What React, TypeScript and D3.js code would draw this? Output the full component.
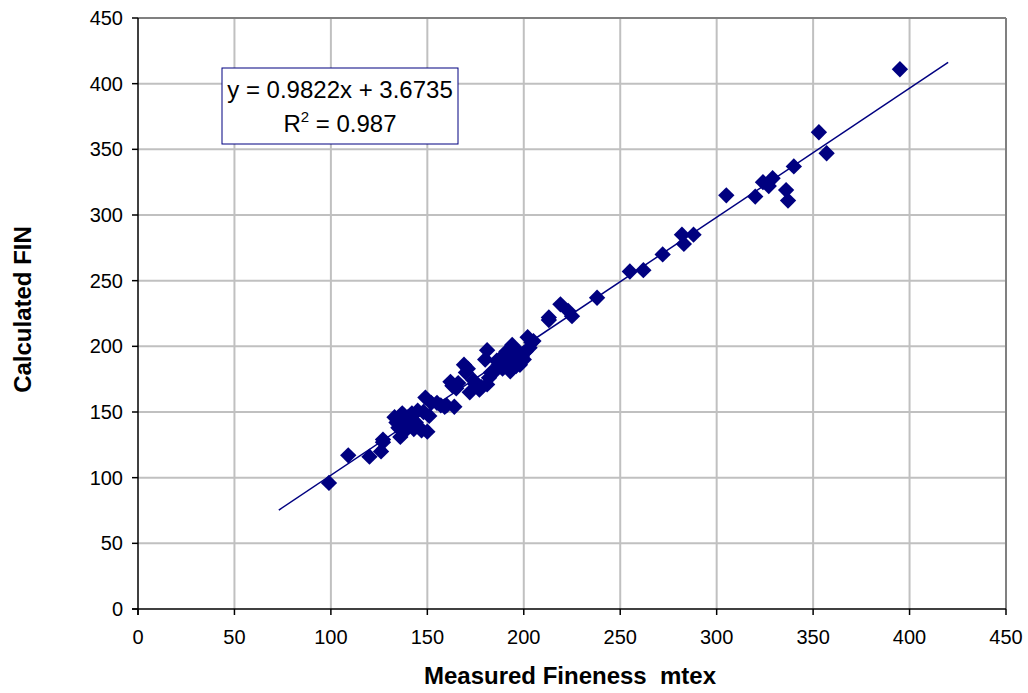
import React from 'react';
import * as d3 from 'd3';

const width = 1028;
const height = 693;
const margin = { top: 18, right: 22, bottom: 84, left: 138 };
const navy = '#000080';

const measured = [
  99, 109, 120, 126, 127, 127, 133, 134, 135, 136, 137, 137, 138, 139, 140, 141, 142, 143, 144, 145,
  146, 147, 148, 149, 150, 151, 152, 155, 157, 159, 160, 162, 163, 164, 165, 166, 169, 170, 171, 172,
  174, 175, 177, 178, 180, 181, 181, 182, 183, 185, 186, 187, 188, 189, 190, 190, 191, 192, 192, 193,
  193, 194, 194, 195, 196, 196, 197, 198, 198, 199, 200, 201, 202, 203, 204, 205, 213, 213, 219, 223,
  225, 238, 255, 262, 272, 282, 283, 288, 305, 320, 324, 327, 329, 336, 337, 340, 353, 357, 395,
];
const calculated = [
  96, 117, 116, 120, 129, 127, 146, 142, 138, 131, 149, 144, 135, 140, 146, 140, 149, 137, 142, 151,
  138, 136, 150, 161, 135, 147, 157, 157, 155, 154, 155, 173, 170, 154, 168, 172, 186, 180, 183, 165,
  174, 171, 167, 169, 190, 197, 171, 176, 180, 181, 189, 186, 191, 183, 193, 187, 196, 184, 190, 198,
  181, 201, 187, 193, 185, 197, 190, 186, 195, 192, 190, 196, 207, 199, 203, 204, 222, 220, 232, 227,
  223, 237, 257, 258, 270, 285, 278, 285, 315, 314, 325, 322, 328, 319, 311, 337, 363, 347, 411,
];
const ticks = [0, 50, 100, 150, 200, 250, 300, 350, 400, 450];
const slope = 0.9822;
const intercept = 3.6735;
const trendRange = [73, 420];

export default function App() {
  const x = d3.scaleLinear().domain([0, 450]).range([margin.left, width - margin.right]);
  const y = d3.scaleLinear().domain([0, 450]).range([height - margin.bottom, margin.top]);
  const points = measured.map((m, i) => ({ m, c: calculated[i] }));
  const diamond = d3.symbol().type(d3.symbolDiamond2).size(170)();
  const trend = d3.line<number>().x(d => x(d)).y(d => y(slope * d + intercept))(trendRange) || '';

  const x0 = x(0), x1 = x(450), y0 = y(0), y1 = y(450);

  return (
    <svg width={width} height={height} style={{ position: 'absolute', left: 0, top: 0, background: '#fff' }}
      fontFamily="'Liberation Sans', Arial, sans-serif">
      {/* grid */}
      {ticks.slice(1).map(t => (
        <line key={'vx' + t} x1={x(t)} x2={x(t)} y1={y1} y2={y0} stroke="#c0c0c0" strokeWidth={2} />
      ))}
      {ticks.slice(1).map(t => (
        <line key={'hy' + t} x1={x0} x2={x1} y1={y(t)} y2={y(t)} stroke="#c0c0c0" strokeWidth={2} />
      ))}
      <line x1={x0} x2={x1} y1={y1} y2={y1} stroke="#808080" strokeWidth={2} />
      <line x1={x1} x2={x1} y1={y1} y2={y0} stroke="#808080" strokeWidth={2} />

      {/* axes */}
      <line x1={x0} x2={x0} y1={y1} y2={y0 + 6} stroke="#000" strokeWidth={1.5} />
      <line x1={x0 - 6} x2={x1} y1={y0} y2={y0} stroke="#000" strokeWidth={1.5} />
      {ticks.map(t => (
        <g key={'ty' + t}>
          <line x1={x0 - 6} x2={x0} y1={y(t)} y2={y(t)} stroke="#000" strokeWidth={1.5} />
          <text x={x0 - 15} y={y(t)} dy="0.35em" textAnchor="end" fontSize={20}>{t}</text>
        </g>
      ))}
      {ticks.map(t => (
        <g key={'tx' + t}>
          <line x1={x(t)} x2={x(t)} y1={y0} y2={y0 + 6} stroke="#000" strokeWidth={1.5} />
          <text x={x(t)} y={y0 + 35} textAnchor="middle" fontSize={20}>{t}</text>
        </g>
      ))}

      {/* titles */}
      <text x={(x0 + x1) / 2 - 2} y={684} textAnchor="middle" fontSize={24} fontWeight="bold">
        Measured Fineness{'\u00a0\u00a0'}mtex
      </text>
      <text transform={`translate(31, ${(y0 + y1) / 2 - 4}) rotate(-90)`} textAnchor="middle" fontSize={24} fontWeight="bold">
        Calculated FIN
      </text>

      {/* points + trendline */}
      {points.map((p, i) => (
        <path key={i} d={diamond} transform={`translate(${x(p.m)},${y(p.c)})`} fill={navy} />
      ))}
      <path d={trend} fill="none" stroke={navy} strokeWidth={1.5} />

      {/* equation box */}
      <rect x={222} y={68} width={236} height={76} fill="#fff" stroke={navy} strokeWidth={1} />
      <text x={340} y={98} textAnchor="middle" fontSize={24}>y = 0.9822x + 3.6735</text>
      <text x={340} y={132} textAnchor="middle" fontSize={24}>
        R<tspan dy={-10} fontSize={15}>2</tspan><tspan dy={10}> = 0.987</tspan>
      </text>
    </svg>
  );
}
